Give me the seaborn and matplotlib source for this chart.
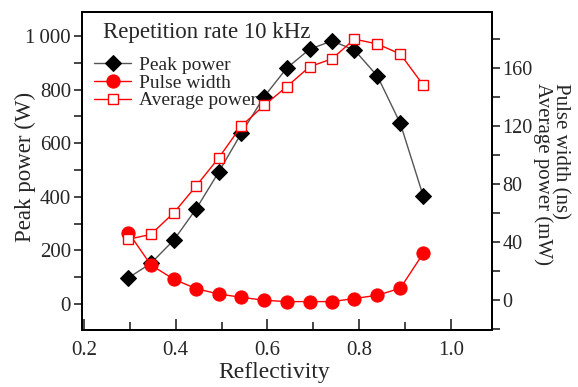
import numpy as np
import pandas as pd
import matplotlib
matplotlib.use("Agg")
import matplotlib.pyplot as plt
import seaborn as sns
from matplotlib.ticker import MultipleLocator, FuncFormatter

# ---- data ----
reflectivity = [0.297, 0.346, 0.396, 0.445, 0.494, 0.543, 0.593,
                0.642, 0.692, 0.741, 0.790, 0.840, 0.890, 0.940]
peak_power = [98, 152, 239, 356, 493, 637, 774, 880, 951, 982, 948, 851, 674, 403]
pulse_width = [46.5, 24.1, 14.3, 7.8, 4.1, 1.9, -0.2, -1.1, -1.1, -1.1, 1.0, 3.3, 8.1, 32.2]
average_power = [41.9, 45.3, 60.2, 78.8, 98.1, 120.0, 134.3, 147.1, 160.9, 166.4,
                 180.0, 176.6, 169.7, 148.3]
left_ticks = [0, 200, 400, 600, 800, 1000]
right_ticks = [0, 40, 80, 120, 160]
x_ticks = [0.2, 0.4, 0.6, 0.8, 1.0]

df = pd.DataFrame({"R": reflectivity, "peak": peak_power,
                   "pw": pulse_width, "avg": average_power})

sns.set_theme(style="ticks")
plt.rcParams["font.family"] = ["Liberation Serif", "DejaVu Serif"]
plt.rcParams["mathtext.fontset"] = "stix"

fig = plt.figure(figsize=(5.78, 3.87), dpi=100)
ax = fig.add_axes([82 / 578, 1 - 330 / 387, 410 / 578, 318 / 387])
ax2 = ax.twinx()

sns.lineplot(data=df, x="R", y="peak", ax=ax, sort=False, estimator=None,
             color="#555555", lw=1.0, marker="D", markersize=8,
             markerfacecolor="black", markeredgecolor="black",
             label="Peak power", legend=False)
sns.lineplot(data=df, x="R", y="pw", ax=ax2, sort=False, estimator=None,
             color="red", lw=1.0, marker="o", markersize=9.5,
             markerfacecolor="red", markeredgecolor="red",
             label="Pulse width", legend=False)
sns.lineplot(data=df, x="R", y="avg", ax=ax2, sort=False, estimator=None,
             color="red", lw=1.0, marker="s", markersize=7.5,
             markerfacecolor="white", markeredgecolor="red", markeredgewidth=1.0,
             label="Average power", legend=False)

ax.set_xlim(0.1956, 1.09)
ax.set_ylim(-97, 1090)
ax2.set_ylim(-20.7, 198.7)

ax.set_xticks(x_ticks)
ax.xaxis.set_major_formatter(FuncFormatter(lambda v, p: f"{v:.1f}"))
ax.xaxis.set_minor_locator(MultipleLocator(0.1))
ax.set_yticks(left_ticks)
ax.yaxis.set_major_formatter(FuncFormatter(
    lambda v, p: f"{int(v):,}".replace(",", "\u2009") if v >= 1000 else f"{int(v)}"))
ax.yaxis.set_minor_locator(MultipleLocator(100))
ax2.set_yticks(right_ticks)
ax2.yaxis.set_minor_locator(MultipleLocator(20))

fs_tick = 15
ax.tick_params(axis="x", which="major", direction="in", length=8, width=1.2,
               labelsize=fs_tick, pad=8, top=False)
ax.tick_params(axis="x", which="minor", direction="in", length=6, width=1.2, top=False)
ax.tick_params(axis="y", which="both", direction="out", length=6, width=1.2,
               labelsize=fs_tick, pad=2)
ax2.tick_params(axis="y", which="both", direction="out", length=6, width=1.2,
                labelsize=14.5, pad=1.5)
for a in (ax, ax2):
    for s in a.spines.values():
        s.set_linewidth(1.4)
        s.set_color("black")

ax.set_xlabel("Reflectivity", fontsize=17)
ax.xaxis.set_label_coords(0.47, -0.10)
ax.xaxis.label.set_va("top")
ax.set_ylabel("Peak power (W)", fontsize=16.5)
ax.yaxis.set_label_coords(-0.111, 0.514)
ax2.set_ylabel("Pulse width (ns)\nAverage power (mW)", fontsize=15,
               rotation=270, va="bottom", ha="center", multialignment="left",
               linespacing=0.88)
ax2.yaxis.set_label_coords(1.1, 0.49)

# legend
handles = ax.get_lines()[:1] + ax2.get_lines()[:2]
labels = ["Peak power", "Pulse width", "Average power"]
leg = ax2.legend(handles, labels, loc="upper left", bbox_to_anchor=(0.03, 0.86),
                 frameon=False, fontsize=14, handlelength=1.9, handletextpad=0.4,
                 labelspacing=0.0, borderpad=0, borderaxespad=0)
ax2.text(0.051, 0.934, "Repetition rate 10 kHz", transform=ax.transAxes,
         fontsize=16.5, ha="left", va="center")

fig.savefig("out.png", dpi=100)
